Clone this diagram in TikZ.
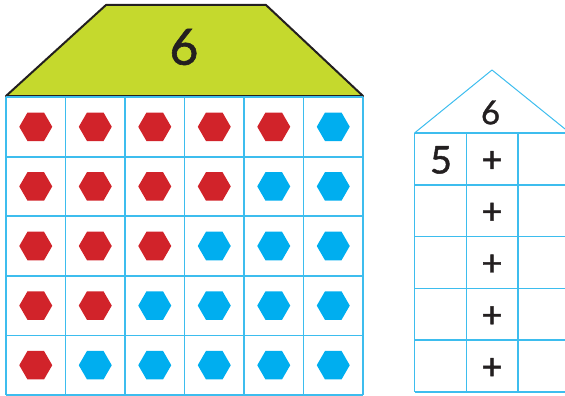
\documentclass[tikz,border=0pt]{standalone}
\usepackage{fontspec}
\setmainfont{Lato}
\newfontfamily\numfont{Lato}[FakeBold=1.2]
\usetikzlibrary{shapes.geometric}
\definecolor{roofgreen}{HTML}{C5D92D}
\definecolor{hexred}{HTML}{D1232A}
\definecolor{hexblue}{HTML}{00AEEF}
\definecolor{gridblue}{HTML}{3DBDEE}
\definecolor{inkgray}{HTML}{231F20}
\begin{document}
\begin{tikzpicture}[x=1pt, y=-1pt,
		hexa/.style={regular polygon, regular polygon sides=6, minimum size=33pt, inner sep=0pt},
		bignum/.style={text=inkgray, inner sep=0pt}]
	\useasboundingbox (0,0) rectangle (565,396);
	\clip (0,0) rectangle (565,396);
	% left house: roof
	\filldraw[fill=roofgreen, draw=inkgray, line width=2pt, line join=round]
		(6,96) -- (106,5) -- (266,5) -- (363,96) -- cycle;
	\node[bignum, font=\numfont\fontsize{50}{50}\selectfont] (total) at (184,47) {6};
	% left house: grid of hexagons
	\foreach \r/\n in {1/5, 2/4, 3/3, 4/2, 5/1} {
		\foreach \c in {1,...,6} {
			\ifnum\c>\n \def\hexcol{hexblue}\else \def\hexcol{hexred}\fi
			\node[hexa, fill=\hexcol] (h\r\c) at ({6+59.5*(\c-0.5)}, {97+59.6*(\r-0.5)}) {};
		}
	}
	\foreach \i in {0,...,6}
		\draw[gridblue, line width=1.8pt] ({6+59.5*\i},97) -- ++(0,298);
	\foreach \i in {0,...,5}
		\draw[gridblue, line width=1.8pt] (6,{97+59.6*\i}) -- ++(357,0);
	% right house
	\draw[gridblue, line width=1pt, line join=round] (414.5,133) -- (492,70) -- (570,133);
	\node[bignum, font=\numfont\fontsize{33}{33}\selectfont] (small) at (490.5,112.5) {6};
	\foreach \i in {0,...,3}
		\draw[gridblue, line width=1.5pt] ({414.5+51.8*\i},133) -- ++(0,259);
	\foreach \i in {0,...,5}
		\draw[gridblue, line width=1.5pt] (414.5,{133+51.8*\i}) -- ++(155.4,0);
	\node[bignum, font=\numfont\fontsize{38}{38}\selectfont] (part) at (441,160) {5};
	\foreach \r in {1,...,5}
		\node[bignum, font=\numfont\fontsize{36}{36}\selectfont] (plus\r) at (492,{161.5+51.8*(\r-1)}) {+};
\end{tikzpicture}
\end{document}
